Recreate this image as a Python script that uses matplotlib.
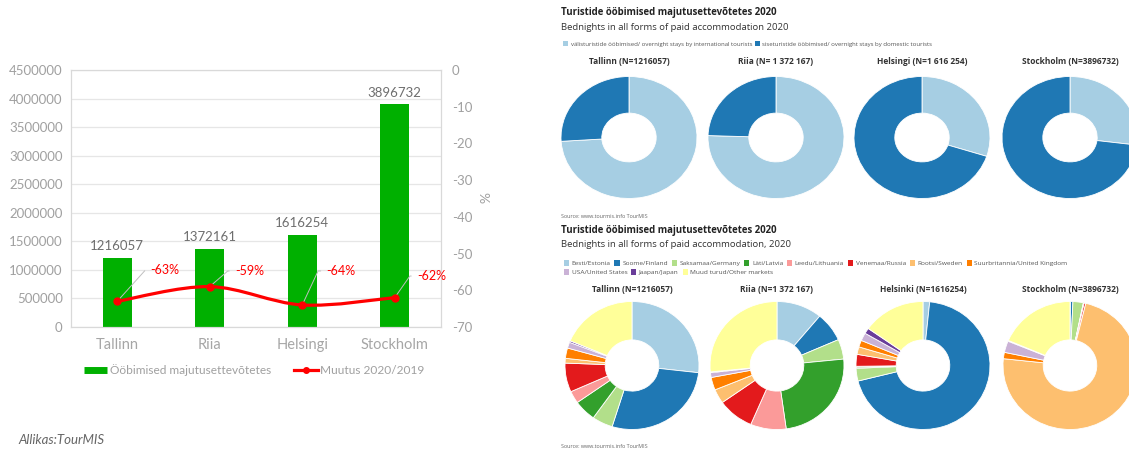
import matplotlib
matplotlib.use('Agg')
import matplotlib.pyplot as plt
import numpy as np
from matplotlib.path import Path
from matplotlib.patches import PathPatch, Patch
from matplotlib.lines import Line2D

# ---- data -------------------------------------------------------------
cities      = ['Tallinn', 'Riia', 'Helsingi', 'Stockholm']
bednights   = [1216057, 1372161, 1616254, 3896732]
change_pct  = [-63, -59, -64, -62]

share_labels = ['välisturistide ööbimised/ overnight stays by international tourists',
                'siseturistide ööbimised/ overnight stays by domestic tourists']
intl_share   = [74.0, 75.5, 30.0, 27.0]
dom_share    = [26.0, 24.5, 70.0, 73.0]
top_titles   = ['Tallinn (N=1216057)', 'Riia (N= 1 372 167)',
                'Helsingi (N=1 616 254)', 'Stockholm (N=3896732)']

markets = ['Eesti/Estonia', 'Soome/Finland', 'Saksamaa/Germany', 'Läti/Latvia',
           'Leedu/Lithuania', 'Venemaa/Russia', 'Rootsi/Sweden',
           'Suurbritannia/United Kingdom', 'USA/United States', 'Jaapan/Japan',
           'Muud turud/Other markets']
tallinn_mk   = [26.8, 28.0, 5.0, 5.4, 3.1, 7.3, 1.2, 2.6, 1.5, 0.4, 18.7]
riia_mk      = [11.0, 7.4, 5.0, 24.4, 8.6, 8.8, 3.6, 3.2, 1.2, 0.2, 26.6]
helsinki_mk  = [1.6, 69.5, 3.2, 0.3, 0.2, 3.0, 1.9, 1.7, 2.0, 1.4, 15.2]
stockholm_mk = [0.1, 0.6, 2.5, 0.1, 0.1, 0.4, 72.9, 1.6, 2.9, 0.2, 18.6]
bottom_titles = ['Tallinn (N=1216057)', 'Riia (N=1 372 167)',
                 'Helsinki (N=1616254)', 'Stockholm (N=3896732)']

# ---- layout helpers (pixel -> figure fraction) ----------------------------
W, H = 1129, 450
def fx(x): return x / W
def fy(y): return 1 - y / H

plt.rcParams['font.family'] = ['Lato', 'DejaVu Sans']
fig = plt.figure(figsize=(W / 100, H / 100), dpi=100)

GREEN = '#00b000'
GREY  = '#a0a0a0'

# ---- left: bar + line combo --------------------------------------------
ax = fig.add_axes([fx(71), fy(327), fx(441) - fx(71), fy(70) - fy(327)])
x = np.arange(len(cities))
ax.bar(x, bednights, width=0.31, color=GREEN, zorder=2)
ax.set_xlim(-0.5, 3.5)
ax.set_ylim(0, 4500000)
ax.set_yticks(range(0, 4500001, 500000))
ax.set_yticklabels([str(v) for v in range(0, 4500001, 500000)])
ax.set_xticks(x)
ax.set_xticklabels(cities)
ax.grid(axis='y', color='#e6e6e6', lw=0.9, zorder=0)
ax.set_axisbelow(True)
for s in ax.spines.values():
    s.set_color('#d9d9d9')
ax.tick_params(axis='y', length=0, colors=GREY, labelsize=9.5, pad=6)
ax.tick_params(axis='x', length=0, colors='#a6a6a6', labelsize=10.5, pad=8)

for i, v in enumerate(bednights):
    ax.annotate(str(v), (i, v), xytext=(0, 4), textcoords='offset points',
                ha='center', va='bottom', fontsize=9.5, color='#6e6e6e')

ax2 = ax.twinx()
ax2.set_ylim(-70, 0)
ax2.set_yticks(range(-70, 1, 10))
ax2.set_yticklabels([str(v) for v in range(-70, 1, 10)])
ax2.tick_params(axis='y', length=0, colors=GREY, labelsize=9.5, pad=8)
for s in ax2.spines.values():
    s.set_color('#d9d9d9')

# smoothed line (Catmull-Rom as cubic Bezier segments)
pts = np.column_stack([x, change_pct]).astype(float)
verts, codes = [pts[0]], [Path.MOVETO]
n = len(pts)
for i in range(n - 1):
    p0 = pts[i - 1] if i > 0 else pts[i]
    p1, p2 = pts[i], pts[i + 1]
    p3 = pts[i + 2] if i + 2 < n else pts[i + 1]
    verts += [p1 + (p2 - p0) / 6, p2 - (p3 - p1) / 6, p2]
    codes += [Path.CURVE4] * 3
ax2.add_patch(PathPatch(Path(verts, codes), fill=False, edgecolor='red', lw=2.3, zorder=3))
ax2.plot(x, change_pct, 'o', color='red', ms=5, zorder=4)

lbl_off = [(33, 31), (25, 15.6), (24, 34), (22, 21.6)]
lbl_ang = [48, 41, 65, 55]
for i, v in enumerate(change_pct):
    dx, dy = lbl_off[i]
    ax2.annotate(f'{v}%', (i, v), xytext=(dx * 0.72, dy * 0.72), textcoords='offset points',
                 ha='left', va='center', color='red', fontsize=9,
                 arrowprops=dict(arrowstyle='-', color='#bfbfbf', lw=0.7, shrinkA=2, shrinkB=0,
                                 relpos=(0, 0.5),
                                 connectionstyle=f'angle,angleA=0,angleB={lbl_ang[i]},rad=0'))

fig.text(fx(482), fy(198), '%', rotation=270, ha='center', va='center',
         color=GREY, fontsize=10)

fig.legend(handles=[Line2D([0], [0], color=GREEN, lw=5, solid_capstyle='butt',
                           label='Ööbimised majutusettevõtetes'),
                    Line2D([0], [0], color='red', lw=2.3, marker='o', ms=4,
                           label='Muutus 2020/2019')],
           loc='center', bbox_to_anchor=(fx(254), fy(370)), ncol=2, frameon=False,
           fontsize=8.6, labelcolor=GREY, handlelength=2.0, handletextpad=0.2,
           columnspacing=1.9)

fig.text(fx(18), fy(440), 'Allikas:TourMIS', style='italic', fontsize=9.5,
         color='#666666', ha='left', va='center')

# ---- right: screenshot-like donut panels ----------------------------------
RFONT = ['Open Sans', 'DejaVu Sans']
paired = plt.get_cmap('Paired').colors
share_cols = [paired[0], paired[1]]
mk_cols = [paired[i] for i in range(11)]
mk_cols[10] = '#ffff99'

def donut(cx, cy, rx, ry, vals, cols):
    a = fig.add_axes([fx(cx - rx), fy(cy + ry), 2 * rx / W, 2 * ry / H])
    a.pie(vals, colors=cols, startangle=90, counterclock=False,
          wedgeprops=dict(width=0.6, edgecolor='white', linewidth=0.6))
    a.set_aspect('auto')
    a.set_xlim(-1, 1)
    a.set_ylim(-1, 1)
    a.axis('off')
    return a

fig.text(fx(561), fy(13), 'Turistide ööbimised majutusettevõtetes 2020',
         family=RFONT, fontweight='bold', fontsize=6.9, color='#222222', va='center')
fig.text(fx(561), fy(27), 'Bednights in all forms of paid accommodation 2020',
         family=RFONT, fontsize=6.8, color='#333333', va='center')
fig.legend(handles=[Patch(facecolor=c, label=l) for c, l in zip(share_cols, share_labels)],
           loc='center left', bbox_to_anchor=(fx(558), fy(44)), ncol=2, frameon=False,
           prop=dict(family=RFONT, size=4.3), labelcolor='#555555', handlelength=0.8,
           handleheight=1.0, handletextpad=0.4, columnspacing=0.5)

top_cx = [629, 776, 922, 1070]
for i in range(4):
    fig.text(fx(top_cx[i]), fy(61), top_titles[i], family=RFONT, fontweight='bold',
             fontsize=6, color='#333333', ha='center', va='center')
    donut(top_cx[i], 137.5, 68, 61, [intl_share[i], dom_share[i]], share_cols)

fig.text(fx(561), fy(217), 'Source: www.tourmis.info TourMIS', family=RFONT,
         fontsize=3.9, color='#666666', va='center')
fig.text(fx(561), fy(231), 'Turistide ööbimised majutusettevõtetes 2020',
         family=RFONT, fontweight='bold', fontsize=6.9, color='#222222', va='center')
fig.text(fx(561), fy(244), 'Bednights in all forms of paid accommodation, 2020',
         family=RFONT, fontsize=6.8, color='#333333', va='center')
mk_handles = [Patch(facecolor=c, label=l) for c, l in zip(mk_cols, markets)]
fig.legend(handles=mk_handles[:8], loc='center left', bbox_to_anchor=(fx(558), fy(263)),
           ncol=8, frameon=False, prop=dict(family=RFONT, size=4.65), labelcolor='#555555',
           handlelength=0.8, handleheight=1.0, handletextpad=0.4, columnspacing=0.6)
fig.legend(handles=mk_handles[8:], loc='center left', bbox_to_anchor=(fx(558), fy(272)),
           ncol=3, frameon=False, prop=dict(family=RFONT, size=4.65), labelcolor='#555555',
           handlelength=0.8, handleheight=1.0, handletextpad=0.4, columnspacing=0.6)

bot_cx = [632, 777, 923, 1070]
for i, vals in enumerate([tallinn_mk, riia_mk, helsinki_mk, stockholm_mk]):
    fig.text(fx(bot_cx[i]), fy(289), bottom_titles[i], family=RFONT, fontweight='bold',
             fontsize=6, color='#333333', ha='center', va='center')
    donut(bot_cx[i], 365.5, 67, 64, vals, mk_cols)

fig.text(fx(561), fy(447), 'Source: www.tourmis.info TourMIS', family=RFONT,
         fontsize=3.9, color='#666666', va='center')

fig.savefig('out.png', dpi=100)
